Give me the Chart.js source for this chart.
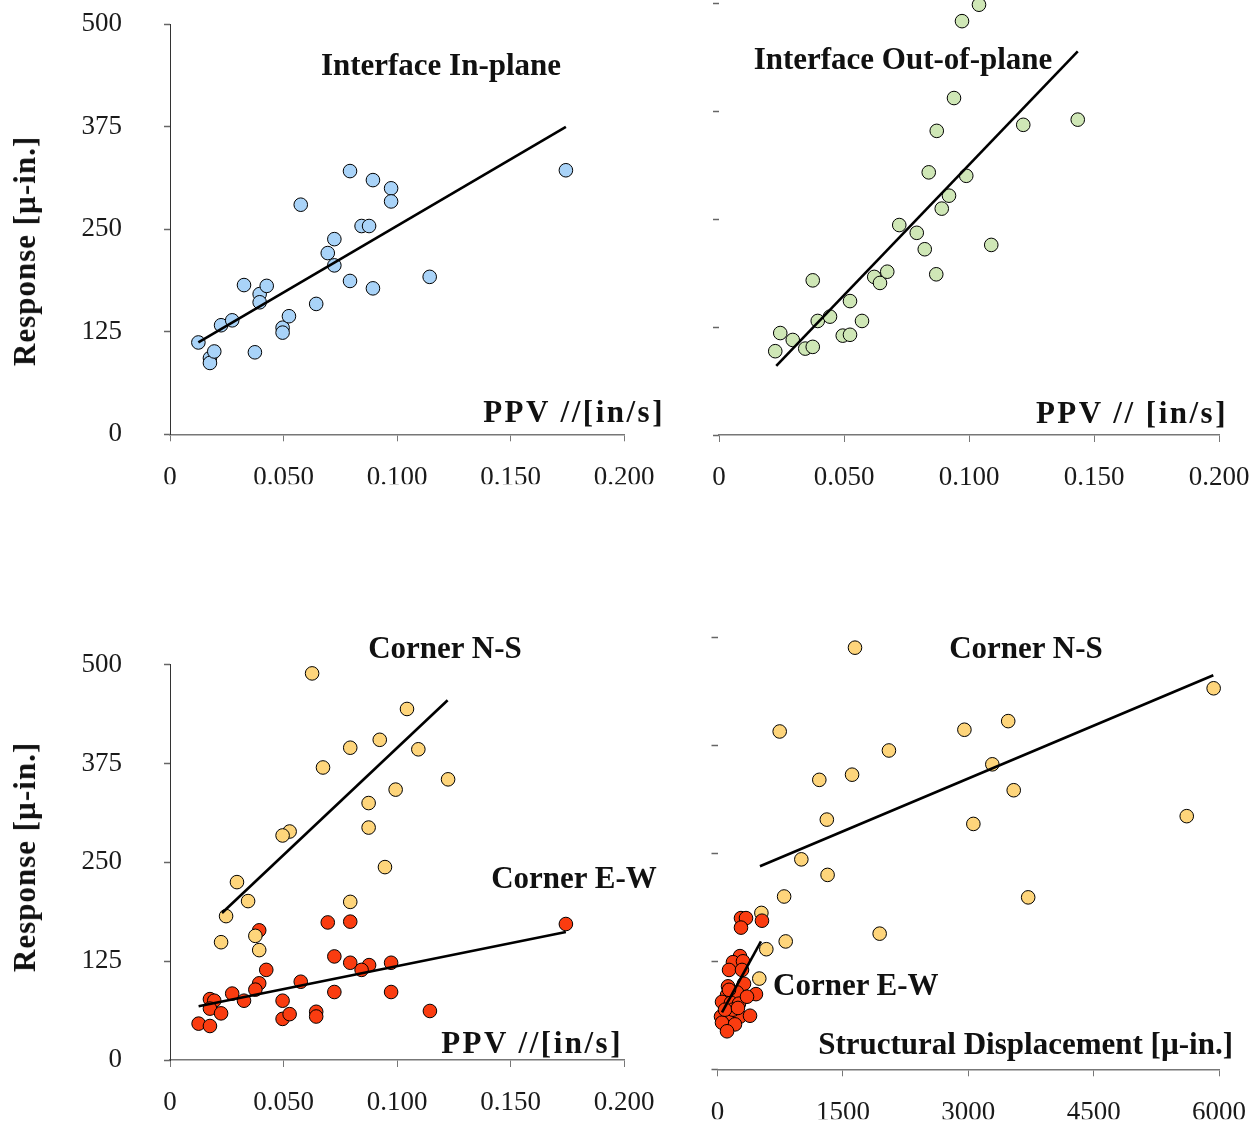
<!DOCTYPE html>
<html>
<head>
<meta charset="utf-8">
<script src="https://cdn.jsdelivr.net/npm/chart.js@4.4.1/dist/chart.umd.min.js"></script>
<style>
    body { margin: 0; background: #fff; }
    #page { position: relative; width: 1255px; height: 1127px; overflow: hidden; }
    #page canvas { position: absolute; left: 0; top: -100px; }
    .lbl { position: absolute; font: bold 31px 'Liberation Serif', 'DejaVu Serif', serif; line-height: 36px; white-space: nowrap; color: #111; }
    .mid { transform: translateX(-50%); }
    .rot { transform: translate(-50%, -50%) rotate(-90deg); letter-spacing: 1px; }
    .ppv { letter-spacing: 2.5px; }
</style>
</head>
<body>
<div id="page">
    <canvas id="c1" width="1355" height="1327"></canvas>
    <canvas id="c2" width="1355" height="1327"></canvas>
    <canvas id="c3" width="1355" height="1327"></canvas>
    <canvas id="c4" width="1355" height="1327"></canvas>

    <div class="lbl mid" style="left:441px; top:47px;">Interface In-plane</div>
    <div class="lbl mid" style="left:903px; top:41px;">Interface Out-of-plane</div>
    <div class="lbl ppv" style="right:590px; top:394px;">PPV //[in/s]</div>
    <div class="lbl ppv" style="right:27px; top:395px;">PPV // [in/s]</div>
    <div class="lbl mid" style="left:445px; top:630px;">Corner N-S</div>
    <div class="lbl mid" style="left:574px; top:860px;">Corner E-W</div>
    <div class="lbl ppv" style="right:632px; top:1025px;">PPV //[in/s]</div>
    <div class="lbl mid" style="left:1026px; top:630px;">Corner N-S</div>
    <div class="lbl" style="left:773px; top:967px;">Corner E-W</div>
    <div class="lbl" style="right:22px; top:1026px;">Structural Displacement [µ-in.]</div>
    <div class="lbl rot" style="left:25px; top:251px;">Response [µ-in.]</div>
    <div class="lbl rot" style="left:25px; top:857px;">Response [µ-in.]</div>
</div>

<script>
// axis ticks
const respTicks = [0, 125, 250, 375, 500];
const respTickLabels = ['0', '125', '250', '375', '500'];
const ppvTicks = [0, 0.05, 0.1, 0.15, 0.2];
const ppvTickLabels = ['0', '0.050', '0.100', '0.150', '0.200'];
const dispTicks = [0, 1500, 3000, 4500, 6000];
const dispTickLabels = ['0', '1500', '3000', '4500', '6000'];

// Interface In-plane
const inPlanePpv = [0.0125, 0.0176, 0.0176, 0.0195, 0.0225, 0.0274, 0.0326, 0.0374, 0.0395, 0.0395, 0.0426, 0.0496, 0.0496, 0.0524, 0.0576, 0.0644, 0.0695, 0.0724, 0.0724, 0.0793, 0.0793, 0.0844, 0.0877, 0.0894, 0.0894, 0.0974, 0.0974, 0.1144, 0.1744];
const inPlaneResp = [112, 93, 87, 101, 133, 139, 182, 100, 171, 161, 181, 130, 124, 144, 280, 159, 221, 238, 206, 321, 187, 254, 254, 310, 178, 300, 284, 192, 322];
const inPlaneFitX = [0.0125, 0.1744];
const inPlaneFitY = [112, 375];

// Interface Out-of-plane
const outPlanePpv = [0.104, 0.0972, 0.094, 0.0871, 0.1217, 0.1435, 0.0839, 0.0989, 0.092, 0.0891, 0.0721, 0.0791, 0.0823, 0.1089, 0.0869, 0.0375, 0.0621, 0.0644, 0.0673, 0.0524, 0.0395, 0.0444, 0.0572, 0.0495, 0.0524, 0.0245, 0.0295, 0.0225, 0.0345, 0.0375];
const outPlaneResp = [498, 479, 390, 352, 359, 365, 304, 300, 277, 262, 243, 234, 215, 220, 186, 179, 183, 176, 189, 155, 132, 137, 132, 115, 116, 118, 110, 97, 100, 102];
const outPlaneFitX = [0.0229, 0.1435];
const outPlaneFitY = [80, 444];

// Corner N-S vs PPV
const nsPpv = [0.0626, 0.1044, 0.0924, 0.0794, 0.1094, 0.0674, 0.1225, 0.0994, 0.0875, 0.0875, 0.0527, 0.0496, 0.0947, 0.0295, 0.0344, 0.0794, 0.0247, 0.0376, 0.0225, 0.0393];
const nsResp = [489, 444, 405, 395, 393, 370, 355, 342, 325, 294, 289, 284, 244, 225, 201, 200, 182, 157, 149, 139];
const nsFitX = [0.0229, 0.1223];
const nsFitY = [186, 455];

// Corner E-W vs PPV
const ewPpv = [0.0695, 0.0794, 0.0393, 0.0724, 0.0794, 0.0877, 0.0844, 0.0974, 0.0424, 0.0393, 0.0376, 0.0576, 0.0274, 0.0326, 0.0176, 0.0195, 0.0176, 0.0225, 0.0126, 0.0176, 0.0496, 0.0496, 0.0527, 0.0644, 0.0644, 0.0724, 0.0974, 0.1145, 0.1744];
const ewResp = [174, 175, 164, 131, 123, 120, 114, 123, 114, 97, 89, 99, 84, 75, 77, 75, 65, 59, 46, 43, 75, 52, 58, 61, 55, 86, 86, 62, 172];
const ewFitX = [0.0126, 0.1744];
const ewFitY = [68, 162];

// Corner N-S vs structural displacement
const nsDisp = [1645, 5936, 744, 2954, 3478, 2051, 1218, 1610, 3288, 3544, 1308, 3061, 5614, 1003, 1317, 797, 3717, 525, 1940, 816, 584, 500];
const nsDispResp = [488, 441, 391, 393, 403, 369, 335, 341, 353, 323, 289, 284, 293, 243, 225, 200, 199, 181, 157, 148, 139, 105];
const nsDispFitX = [508, 5932];
const nsDispFitY = [235, 456];

// Corner E-W vs structural displacement
const ewDisp = [281, 341, 281, 532, 269, 185, 305, 138, 293, 126, 317, 114, 233, 460, 54, 161, 257, 42, 150, 269, 389, 54, 209, 114, 185, 90, 245, 138, 353];
const ewDispResp = [175, 175, 164, 172, 131, 124, 125, 115, 115, 96, 99, 86, 89, 87, 78, 77, 76, 61, 61, 61, 62, 54, 52, 44, 69, 69, 71, 92, 84];
const ewDispFitX = [54, 520];
const ewDispFitY = [66, 148];

const BLUE = '#a9d3f8';
const GREEN = '#cfe7b6';
const YELLOW = '#fed57b';
const RED = '#fa3c10';

// canvases are bigger than the page (shifted up by OFF_Y) so that
// label paddings never push the plot areas around
const CANVAS_W = 1355;
const CANVAS_H = 1327;
const OFF_Y = 100;
const Y_W = 100;
const X_H = 50;

function toPoints(xs, ys) {
    return xs.map((x, i) => ({x: x, y: ys[i]}));
}

function pointSet(xs, ys, color, order) {
    return {
        data: toPoints(xs, ys),
        backgroundColor: color,
        borderColor: '#000',
        borderWidth: 1,
        pointRadius: 6.8,
        pointHoverRadius: 6.8,
        showLine: false,
        clip: 12,
        order: order
    };
}

function fitLine(xs, ys) {
    return {
        data: toPoints(xs, ys),
        borderColor: '#000',
        borderWidth: 2.6,
        pointRadius: 0,
        showLine: true,
        fill: false,
        clip: 12,
        order: 0
    };
}

function makePanel(id, area, xTicks, xLabels, showYLabels, datasets) {
    const tickFont = {family: "'Liberation Serif', serif", size: 27};

    return new Chart(document.getElementById(id), {
        type: 'scatter',
        data: {datasets: datasets},
        options: {
            responsive: false,
            animation: false,
            events: [],
            layout: {
                padding: {
                    left: area.left - Y_W,
                    top: area.top + OFF_Y,
                    right: CANVAS_W - area.right,
                    bottom: CANVAS_H - (area.bottom + OFF_Y) - X_H
                }
            },
            plugins: {
                legend: {display: false},
                tooltip: {enabled: false}
            },
            scales: {
                x: {
                    type: 'linear',
                    min: xTicks[0],
                    max: xTicks[xTicks.length - 1],
                    afterBuildTicks: (scale) => { scale.ticks = xTicks.map(v => ({value: v})); },
                    afterFit: (scale) => { scale.height = X_H; },
                    grid: {display: true, drawOnChartArea: false, drawTicks: true, tickLength: 7, tickColor: '#777', tickWidth: 1},
                    border: {display: true, color: '#777', width: 1.5},
                    ticks: {
                        padding: 20,
                        color: '#1a1a1a',
                        font: tickFont,
                        maxRotation: 0,
                        autoSkip: false,
                        callback: (value, index) => xLabels[index]
                    }
                },
                y: {
                    type: 'linear',
                    min: respTicks[0],
                    max: respTicks[respTicks.length - 1],
                    afterBuildTicks: (scale) => { scale.ticks = respTicks.map(v => ({value: v})); },
                    afterFit: (scale) => { scale.width = Y_W; },
                    grid: {display: true, drawOnChartArea: false, drawTicks: true, tickLength: 6, tickColor: '#666', tickWidth: 1.5},
                    border: {display: showYLabels, color: '#333', width: 1},
                    ticks: {
                        display: showYLabels,
                        padding: 42,
                        color: '#1a1a1a',
                        font: tickFont,
                        autoSkip: false,
                        callback: (value, index) => respTickLabels[index]
                    }
                }
            }
        }
    });
}

makePanel('c1', {left: 170, right: 624, top: 24.3, bottom: 434.3}, ppvTicks, ppvTickLabels, true, [
    pointSet(inPlanePpv, inPlaneResp, BLUE, 1),
    fitLine(inPlaneFitX, inPlaneFitY)
]);

makePanel('c2', {left: 719, right: 1219, top: 3, bottom: 435}, ppvTicks, ppvTickLabels, false, [
    pointSet(outPlanePpv, outPlaneResp, GREEN, 1),
    fitLine(outPlaneFitX, outPlaneFitY)
]);

makePanel('c3', {left: 170, right: 624, top: 664.7, bottom: 1060}, ppvTicks, ppvTickLabels, true, [
    pointSet(ewPpv, ewResp, RED, 2),
    pointSet(nsPpv, nsResp, YELLOW, 1),
    fitLine(nsFitX, nsFitY),
    fitLine(ewFitX, ewFitY)
]);

makePanel('c4', {left: 717.5, right: 1219, top: 637.3, bottom: 1069.3}, dispTicks, dispTickLabels, false, [
    pointSet(nsDisp, nsDispResp, YELLOW, 2),
    pointSet(ewDisp, ewDispResp, RED, 1),
    fitLine(nsDispFitX, nsDispFitY),
    fitLine(ewDispFitX, ewDispFitY)
]);
</script>
</body>
</html>
